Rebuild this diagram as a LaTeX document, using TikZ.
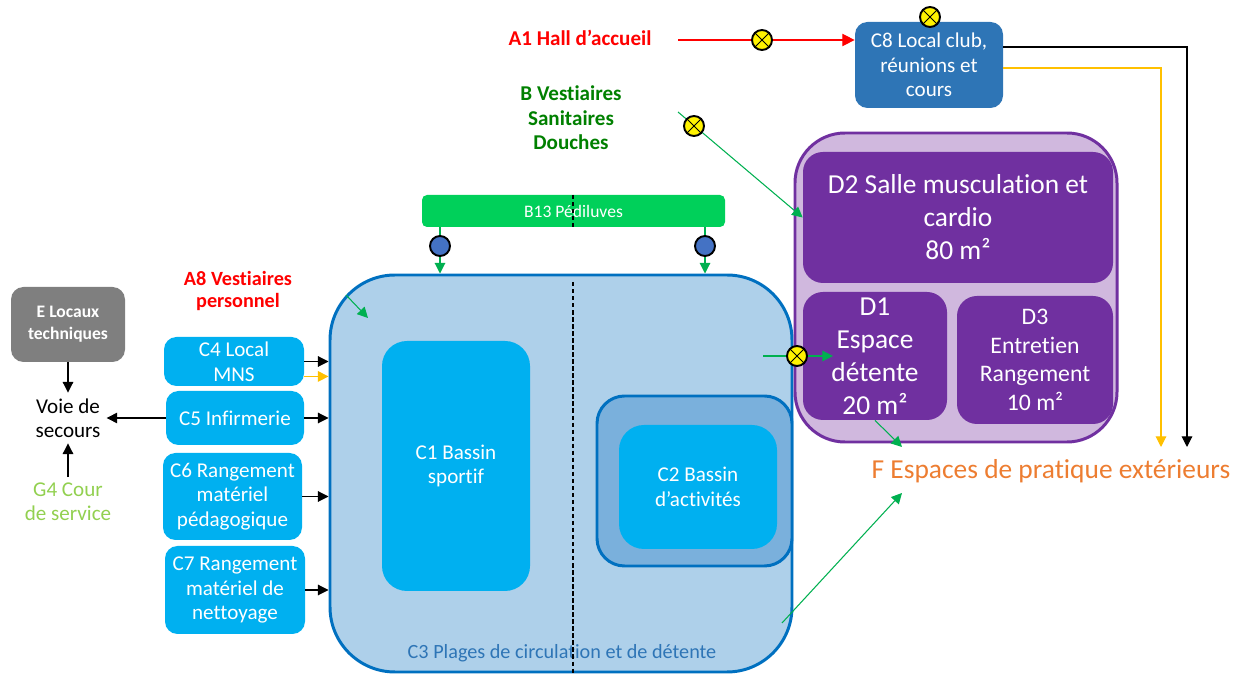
\documentclass[tikz,border=0pt]{standalone}
\usepackage{fontspec}
\setmainfont{Carlito}[Ligatures=CommonOff]
\usepackage{tikz}
\usetikzlibrary{arrows.meta}

\definecolor{redA}{RGB}{255,0,0}
\definecolor{greenB}{RGB}{0,128,0}
\definecolor{greenLn}{RGB}{0,176,80}
\definecolor{greenPed}{RGB}{0,208,90}
\definecolor{bluePool}{RGB}{0,176,240}
\definecolor{blueDeck}{RGB}{174,208,234}
\definecolor{blueMid}{RGB}{122,176,220}
\definecolor{blueEdge}{RGB}{0,112,192}
\definecolor{blueClub}{RGB}{46,117,182}
\definecolor{blueBulb}{RGB}{68,114,196}
\definecolor{purpleD}{RGB}{112,48,160}
\definecolor{lilacD}{RGB}{208,184,222}
\definecolor{greyE}{RGB}{127,127,127}
\definecolor{greenG}{RGB}{146,208,80}
\definecolor{orangeF}{RGB}{237,125,49}
\definecolor{goldArr}{RGB}{255,192,0}

\newcommand{\fsRoom}{\fontsize{12}{14}\selectfont}
\newcommand{\fsBig}{\fontsize{15.6}{18.8}\selectfont}
\newcommand{\fsMid}{\fontsize{13.5}{16.2}\selectfont}
\newcommand{\fsSmall}{\fontsize{10}{12.5}\selectfont}

\tikzset{roomsize/.style 2 args={minimum width=#1*0.02cm,minimum height=#2*0.02cm}}
\tikzstyle{room}=[rectangle,inner sep=0pt,align=center,text=white]
\tikzstyle{pool}=[room,fill=bluePool,font=\fsRoom]
\tikzstyle{annex}=[room,fill=bluePool,font=\fsRoom,rounded corners=0.25cm]
\tikzstyle{gym}=[room,fill=purpleD,rounded corners=0.4cm]
\tikzstyle{title}=[align=center,font=\fsRoom\bfseries]
\tikzstyle{valve}=[circle,draw=black,line width=1.1pt,fill=yellow,minimum size=0.4cm,inner sep=0pt,
  path picture={\draw[line width=0.5pt] (path picture bounding box.north west) -- (path picture bounding box.south east)
    (path picture bounding box.north east) -- (path picture bounding box.south west);}]
\tikzstyle{bulb}=[circle,draw=black,line width=1.1pt,fill=blueBulb,minimum size=0.4cm,inner sep=0pt]
\tikzstyle{garr}=[draw=greenLn,line width=0.6pt,-{Triangle[length=6pt,width=6pt]}]
\tikzstyle{blkarr}=[draw=black,line width=0.6pt,-{Triangle[length=6pt,width=6pt]}]
\tikzstyle{ylwarr}=[draw=goldArr,line width=0.6pt,-{Triangle[length=6pt,width=6pt]}]
\tikzstyle{redarr}=[draw=redA,line width=0.6pt,-{Triangle[length=7pt,width=7pt]}]
\tikzstyle{midline}=[draw=black,line width=0.6pt,dash pattern=on 2.5pt off 1.5pt]

\begin{document}
\begin{tikzpicture}[x=0.02cm,y=-0.02cm]
\useasboundingbox (0,0) rectangle (1249,675);
% bassins
\node[room,fill=blueDeck,draw=blueEdge,line width=1.7pt,rounded corners=1.3cm,roomsize={462}{397}] (C3) at (561,473.5) {};
\node[font=\fontsize{11.5}{14}\selectfont,text=blueClub] (C3txt) at (562,653) {C3 Plages de circulation et de détente};
\draw[midline] (573,282) -- (573,675);
\node[pool,rounded corners=0.5cm,roomsize={148}{250}] (C1) at (456,466) {C1 Bassin\\sportif};
\node[room,fill=blueMid,draw=blueEdge,line width=1.7pt,rounded corners=0.55cm,roomsize={195}{170}] (C2out) at (694.5,481) {};
\node[pool,rounded corners=0.5cm,roomsize={158}{124}] (C2) at (698,487) {C2 Bassin\\d’activités};
% locaux annexes
\node[annex,roomsize={140}{49}] (C4) at (234,361.5) {C4 Local\\MNS};
\node[annex,roomsize={138}{54}] (C5) at (235,418) {C5 Infirmerie};
\node[annex,roomsize={139}{87}] (C6) at (232.5,496.5) {C6 Rangement\\matériel\\pédagogique};
\node[annex,roomsize={140}{88}] (C7) at (235,590) {C7 Rangement\\matériel de\\nettoyage};
\node[room,fill=greyE,rounded corners=0.25cm,font=\fsSmall\bfseries,roomsize={114}{75}] (E) at (68,324.5) {E Locaux\\techniques};
\node[align=center,font=\fontsize{12}{13.5}\selectfont] (Voie) at (68,418) {Voie de\\secours};
\node[align=center,font=\fontsize{12}{13.5}\selectfont,text=greenG] (G4) at (68,502) {G4 Cour\\de service};
\node[title,text=redA,font=\fontsize{11.5}{12.6}\selectfont\bfseries] (A8) at (238,291) {A8 Vestiaires\\personnel};
% accueil, vestiaires
\node[title,text=redA] (A1) at (580,38) {A1 Hall d’accueil};
\node[title,text=greenB] (B) at (571,118) {B Vestiaires\\Sanitaires\\Douches};
\node[room,fill=greenPed,rounded corners=0.1cm,font=\fsSmall,roomsize={303}{32}] (B13) at (573.5,211) {B13 Pédiluves};
\draw[midline] (573,195) -- (573,227);
\node[room,fill=blueClub,rounded corners=0.25cm,font=\fsRoom,roomsize={148}{86}] (C8) at (929,65) {C8 Local club,\\réunions et\\cours};
% forme
\node[room,fill=lilacD,draw=purpleD,line width=1.7pt,rounded corners=1cm,roomsize={322}{309}] (D) at (956,287.5) {};
\node[gym,font=\fsBig,roomsize={310}{131}] (D2) at (958,217.5) {D2 Salle musculation et\\cardio\\80 m²};
\node[gym,font=\fsBig,roomsize={144}{128}] (D1) at (875,356) {D1\\Espace\\détente\\20 m²};
\node[gym,font=\fsMid,roomsize={156}{128}] (D3) at (1035,360) {D3\\Entretien\\Rangement\\10 m²};
\node[font=\fsBig,text=orangeF] (F) at (1051,471) {F Espaces de pratique extérieurs};
% points
\coordinate (A1out) at (678,40);
\coordinate (Bout) at (678,112);
\coordinate (A8out) at (346,295);
\coordinate (A8in) at (368,318);
\coordinate (D1from) at (763,356);
\coordinate (D1in) at (833,356);
\coordinate (C3out) at (782,623);
\coordinate (Fleft) at (902,493);
\coordinate (Ftop) at (902,447);
\coordinate (kY) at (1161,68);
\coordinate (kB) at (1187,47);
\coordinate (Fyel) at (1161,447);
\coordinate (Fblk) at (1187,447);
\coordinate (pL) at (440,246);
\coordinate (pR) at (705,246);
\draw
  (A1out) edge[redarr] (A1out -| C8.west)
  (Bout) edge[garr] (D2.west)
  (A8out) edge[garr] (A8in)
  (B13.south -| pL) edge[garr] (C3.north -| pL)
  (B13.south -| pR) edge[garr] (C3.north -| pR)
  (D1from) edge[garr] (D1in)
  (D1.south) edge[garr] (Ftop)
  (C3out) edge[garr] (Fleft)
%
  (C4.east) edge[blkarr] (C4.east -| C3.west)
  (C4.-12.5) edge[ylwarr] (C4.-12.5 -| C3.west)
  (C5.east) edge[blkarr] (C5.east -| C3.west)
  (C6.east) edge[blkarr] (C6.east -| C3.west)
  (C7.east) edge[blkarr] (C7.east -| C3.west)
  (C5.west) edge[blkarr] (Voie.east)
  (E.south) edge[blkarr] (Voie.north)
  (G4.north) edge[blkarr] (Voie.south);
\draw[blkarr] (C8.east |- kB) -- (kB) -- (Fblk);
\draw[ylwarr] (C8.east |- kY) -- (kY) -- (Fyel);
\node[valve] (vA1) at (762,40) {};
\node[valve] (vC8) at (930,17) {};
\node[valve] (vB) at (694,126) {};
\node[valve] (vD1) at (797,356) {};
\node[bulb] (bL) at (pL) {};
\node[bulb] (bR) at (pR) {};
\end{tikzpicture}
\end{document}
